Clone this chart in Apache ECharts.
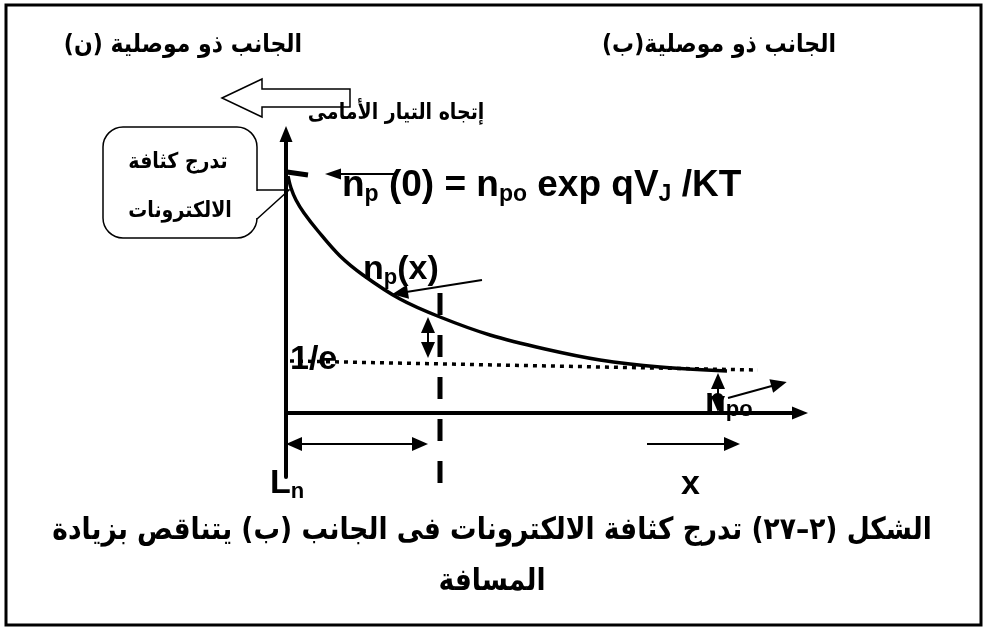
<!DOCTYPE html>
<html>
<head>
<meta charset="utf-8">
<script src="https://cdn.jsdelivr.net/npm/echarts@6/dist/echarts.min.js"></script>
<style>
html, body { margin: 0; padding: 0; background: #fff; }
#chart { width: 985px; height: 628px; }
</style>
</head>
<body>
<div id="chart"></div>
<script>
// electron density n_p(x) along the p side (arbitrary units)
const curveX = [0.2, 0.5, 1.0, 1.8, 3.2, 5.4, 7.7, 11.4, 15.4, 20.4, 25.9, 31.4, 37.4, 44.1];
const curveY = [23.7, 22.5, 21.3, 20.0, 18.2, 15.7, 13.8, 11.4, 9.6, 7.8, 6.4, 5.3, 4.6, 4.2];

// 1/e level (dotted)
const eLineX = [0.4, 47.2];
const eLineY = [5.2, 4.3];

// diffusion length Ln marker (dashed vertical)
const lnMarkX = [15.4, 15.4];
const lnMarkY = [12.0, -7.2];

// small tick at n_p(0)
const startTickX = [0.1, 2.2];
const startTickY = [24.1, 23.8];

// annotation arrows: [x1, y1, x2, y2]
const arrowNp0 = [11.1, 23.9, 4.7, 23.9];
const arrowGap = [14.2, 8.8, 14.2, 6.3];
const arrowNpo = [43.2, 3.2, 43.2, 0.9];
const arrowLn = [0.8, -3.1, 13.4, -3.1];
const arrowX = [36.1, -3.1, 44.6, -3.1];
const pointerNpx = [19.6, 13.3, 11.4, 12.0];
const pointerNpo = [44.2, 1.5, 49.3, 2.9];

const arabicFont = 'bold {s}px "DejaVu Sans"';
const latinFont = '"Liberation Sans", Arial, sans-serif';

function pairs(xs, ys) {
    return xs.map(function (x, i) { return [x, ys[i]]; });
}

function arrow(a, startSym, endSym, curve, size) {
    const s = size || [14, 16];
    return [
        { coord: [a[0], a[1]], symbol: startSym, symbolSize: s },
        { coord: [a[2], a[3]], symbol: endSym, symbolSize: s, lineStyle: { curveness: curve || 0 } }
    ];
}

function arText(text, x, y, size, sy) {
    return {
        type: 'text', z: 20, x: x, y: y, scaleY: sy || 1.15,
        style: {
            text: text, x: 0, y: 0, fill: '#000',
            font: arabicFont.replace('{s}', size),
            textAlign: 'center', textVerticalAlign: 'middle'
        }
    };
}

function latText(text, x, y, rich) {
    return {
        type: 'text', z: 20,
        style: {
            text: text, x: x, y: y, fill: '#000',
            textAlign: 'left', textVerticalAlign: 'middle',
            rich: rich
        }
    };
}

function richSet(main, sub) {
    return {
        m: { fontFamily: latinFont, fontWeight: 'bold', fontSize: main, lineHeight: main + 4, fill: '#000' },
        s: { fontFamily: latinFont, fontWeight: 'bold', fontSize: sub, lineHeight: sub - 4, verticalAlign: 'bottom', fill: '#000' }
    };
}

const labelRich = richSet(34, 22);
const formulaRich = richSet(37, 23);

const option = {
    backgroundColor: '#fff',
    animation: false,
    grid: { left: 286, top: 134, width: 514, height: 343 },
    xAxis: {
        type: 'value', min: 0, max: 51.4,
        axisLine: {
            show: true, onZero: true,
            symbol: ['none', 'triangle'], symbolSize: [13, 16],
            lineStyle: { color: '#000', width: 4 }
        },
        axisTick: { show: false }, axisLabel: { show: false }, splitLine: { show: false }
    },
    yAxis: {
        type: 'value', min: -6.4, max: 27.9,
        axisLine: {
            show: true,
            symbol: ['none', 'triangle'], symbolSize: [13, 16],
            lineStyle: { color: '#000', width: 4 }
        },
        axisTick: { show: false }, axisLabel: { show: false }, splitLine: { show: false }
    },
    series: [
        {
            type: 'line', name: 'np', data: pairs(curveX, curveY),
            smooth: 0.35, symbol: 'none', silent: true,
            lineStyle: { color: '#000', width: 3.5 },
            markLine: {
                silent: true, animation: false,
                symbol: ['none', 'triangle'],
                label: { show: false },
                lineStyle: { color: '#000', width: 2, type: 'solid' },
                data: [
                    arrow(arrowNp0, 'none', 'triangle', 0, [11, 16]),
                    arrow(arrowGap, 'triangle', 'triangle'),
                    arrow(arrowNpo, 'triangle', 'triangle'),
                    arrow(arrowLn, 'triangle', 'triangle'),
                    arrow(arrowX, 'none', 'triangle'),
                    arrow(pointerNpx, 'none', 'triangle', -0.15),
                    arrow(pointerNpo, 'none', 'triangle', 0.35)
                ]
            }
        },
        {
            type: 'line', name: '1/e', data: pairs(eLineX, eLineY),
            symbol: 'none', silent: true,
            lineStyle: { color: '#000', width: 3.5, type: [4, 5] }
        },
        {
            type: 'line', name: 'Ln', data: pairs(lnMarkX, lnMarkY),
            symbol: 'none', silent: true, clip: false,
            lineStyle: { color: '#000', width: 5, type: [22, 20], cap: 'butt' }
        },
        {
            type: 'line', name: 'tick', data: pairs(startTickX, startTickY),
            symbol: 'none', silent: true,
            lineStyle: { color: '#000', width: 5 }
        }
    ],
    graphic: [
        // frame
        { type: 'rect', z: 1, shape: { x: 6, y: 5, width: 975, height: 620 },
          style: { fill: 'none', stroke: '#000', lineWidth: 3 } },
        // hollow arrow for forward current direction
        { type: 'polygon', z: 10,
          shape: { points: [[222, 98], [262, 79], [262, 89], [350, 89], [350, 107], [262, 107], [262, 117]] },
          style: { fill: '#fff', stroke: '#000', lineWidth: 1.5 } },
        // callout box
        { type: 'rect', z: 10, shape: { x: 103, y: 127, width: 154, height: 111, r: 20 },
          style: { fill: '#fff', stroke: '#000', lineWidth: 1.5 } },
        { type: 'rect', z: 11, shape: { x: 254, y: 191, width: 6, height: 27 },
          style: { fill: '#fff', stroke: 'none' } },
        { type: 'polyline', z: 11, shape: { points: [[257, 190], [289, 190], [257, 219]] },
          style: { fill: 'none', stroke: '#000', lineWidth: 1.5 } },
        arText('الجانب ذو موصلية (ن)', 183, 45, 22),
        arText('الجانب ذو موصلية(ب)', 719, 45, 22),
        arText('إتجاه التيار الأمامى', 396, 113, 19),
        arText('تدرج كثافة', 178, 162, 19),
        arText('الالكترونات', 180, 211, 19),
        latText('{m|n}{s|p}{m| (0) = n}{s|po}{m| exp qV}{s|J}{m| /KT}', 342, 186, formulaRich),
        latText('{m|1/e}', 290, 360, labelRich),
        latText('{m|n}{s|p}{m|(x)}', 363, 270, labelRich),
        latText('{m|n}{s|po}', 705, 402, labelRich),
        latText('{m|L}{s|n}', 270, 484, labelRich),
        latText('{m|x}', 681, 485, labelRich),
        arText('الشكل (٢–٢٧) تدرج كثافة الالكترونات فى الجانب (ب) يتناقص بزيادة', 492, 531, 26.5),
        arText('المسافة', 492, 582, 26.5)
    ]
};

const myChart = echarts.init(document.getElementById('chart'));
myChart.setOption(option);
</script>
</body>
</html>
